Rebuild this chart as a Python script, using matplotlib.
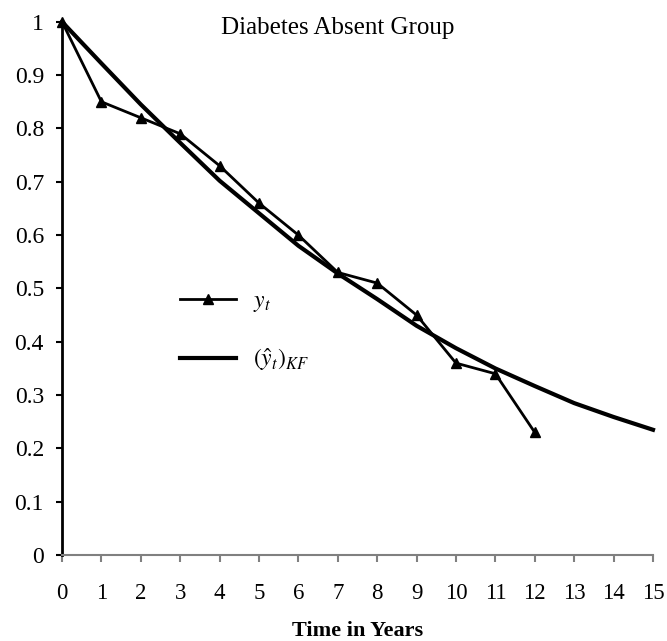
import matplotlib
matplotlib.use("Agg")
import matplotlib.pyplot as plt

years = [0, 1, 2, 3, 4, 5, 6, 7, 8, 9, 10, 11, 12]
y_obs = [1.0, 0.85, 0.82, 0.79, 0.73, 0.66, 0.60, 0.53, 0.51, 0.45, 0.36, 0.34, 0.23]

years_kf = [0, 1, 2, 3, 4, 5, 6, 7, 8, 9, 10, 11, 12, 13, 14, 15]
y_kf = [1.0, 0.922, 0.845, 0.773, 0.702, 0.641, 0.580, 0.528, 0.480, 0.430,
        0.388, 0.350, 0.317, 0.285, 0.259, 0.235]

x_ticks = list(range(0, 16))
y_ticks = [0, 0.1, 0.2, 0.3, 0.4, 0.5, 0.6, 0.7, 0.8, 0.9, 1.0]
y_ticklabels = ["0", "0.1", "0.2", "0.3", "0.4", "0.5", "0.6", "0.7", "0.8", "0.9", "1"]

plt.rcParams['font.family'] = ['Liberation Serif', 'DejaVu Serif']
plt.rcParams['mathtext.fontset'] = 'stix'

fig = plt.figure(figsize=(6.67, 6.41), dpi=100)
ax = fig.add_axes([0.093, 0.134, 0.886, 0.832])

ax.plot(years, y_obs, color='black', lw=2, marker='^', ms=7, clip_on=False,
        label=r'$y_t$', zorder=3)
ax.plot(years_kf, y_kf, color='black', lw=3, clip_on=False,
        label=r'$(\hat{y}_t)_{KF}$', zorder=2)

ax.set_xlim(0, 15)
ax.set_ylim(0, 1)
ax.set_xticks(x_ticks)
ax.set_xticklabels([str(v) for v in x_ticks])
ax.set_yticks(y_ticks)
ax.set_yticklabels(y_ticklabels)

for s in ['top', 'right']:
    ax.spines[s].set_visible(False)
ax.spines['left'].set_color('black')
ax.spines['left'].set_linewidth(2)
ax.spines['bottom'].set_color('#808080')
ax.spines['bottom'].set_linewidth(1.5)

ax.tick_params(axis='y', direction='out', length=4, width=1.5, colors='black',
               labelsize=17, pad=9)
ax.tick_params(axis='x', direction='out', length=5, width=1.5, color='#808080',
               labelcolor='black', labelsize=16.5, pad=15)

ax.set_xlabel('Time in Years', fontsize=16, fontweight='bold', labelpad=12)
ax.text(0.467, 0.989, 'Diabetes Absent Group', transform=ax.transAxes,
        ha='center', va='center', fontsize=18)

ax.legend(loc='center left', bbox_to_anchor=(0.163, 0.419), frameon=False,
          fontsize=17, handlelength=2.4, labelspacing=1.35, handletextpad=0.7)

fig.savefig('out.png', dpi=100)
